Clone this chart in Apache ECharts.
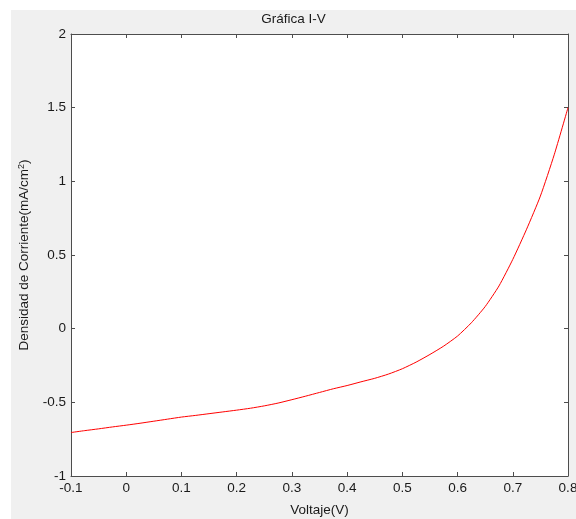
<!DOCTYPE html>
<html>
<head>
<meta charset="utf-8">
<script src="https://cdn.jsdelivr.net/npm/echarts@6/dist/echarts.min.js"></script>
<style>
  html, body { margin: 0; padding: 0; background: #ffffff; }
  #chart { position: absolute; left: 11px; top: 10px; width: 565px; height: 509px; }
</style>
</head>
<body>
<div id="chart"></div>
<script>
// Voltage samples (V)
const voltage = [
  -0.1, -0.075, -0.05, -0.025, 0, 0.025, 0.05, 0.075, 0.1, 0.125, 0.15, 0.175,
  0.2, 0.225, 0.25, 0.275, 0.3, 0.325, 0.35, 0.375, 0.4, 0.425, 0.45, 0.475,
  0.5, 0.525, 0.55, 0.575, 0.6, 0.625, 0.65, 0.675, 0.7, 0.725, 0.75, 0.775, 0.8
];
// Current density (mA/cm^2)
const density = [
  -0.705, -0.692, -0.680, -0.667, -0.655, -0.642, -0.628, -0.614, -0.600, -0.589, -0.577, -0.565,
  -0.553, -0.540, -0.524, -0.505, -0.482, -0.458, -0.433, -0.408, -0.386, -0.361, -0.337, -0.308,
  -0.272, -0.227, -0.175, -0.118, -0.050, 0.040, 0.150, 0.290, 0.470, 0.675, 0.900, 1.180, 1.500
];
const xTicks = [-0.1, 0, 0.1, 0.2, 0.3, 0.4, 0.5, 0.6, 0.7, 0.8];
const yTicks = [-1, -0.5, 0, 0.5, 1, 1.5, 2];

const font = 'Liberation Sans, Arial, sans-serif';
const fontSize = 13.5;
const axisColor = '#4d4d4d';
const textColor = '#1a1a1a';

const fmt = v => String(Math.round(v * 100) / 100);

const baseAxis = {
  axisLine: { show: true, onZero: false, lineStyle: { color: axisColor, width: 1 } },
  axisTick: { show: true, inside: true, length: 4, lineStyle: { color: axisColor } },
  splitLine: { show: false },
};

const chart = echarts.init(document.getElementById('chart'));
chart.setOption({
  backgroundColor: '#f0f0f0',
  animation: false,
  title: {
    text: 'Gráfica I-V',
    left: 'center',
    top: 2,
    padding: 0,
    textStyle: { fontFamily: font, fontSize: fontSize, fontWeight: 'normal', color: textColor }
  },
  grid: {
    left: 60, top: 24, right: 8, bottom: 43,
    outerBoundsMode: 'none', containLabel: false,
    show: true, backgroundColor: '#ffffff', borderWidth: 0
  },
  xAxis: [
    Object.assign({}, baseAxis, {
      type: 'value', min: xTicks[0], max: xTicks[xTicks.length - 1], interval: 0.1,
      position: 'bottom',
      name: 'Voltaje(V)', nameLocation: 'middle', nameGap: 27,
      nameTextStyle: { fontFamily: font, fontSize: fontSize, color: textColor },
      axisLabel: { fontFamily: font, fontSize: fontSize, color: textColor, margin: 5, formatter: fmt }
    }),
    Object.assign({}, baseAxis, {
      type: 'value', min: xTicks[0], max: xTicks[xTicks.length - 1], interval: 0.1,
      position: 'top', axisLabel: { show: false }
    })
  ],
  yAxis: [
    Object.assign({}, baseAxis, {
      type: 'value', min: yTicks[0], max: yTicks[yTicks.length - 1], interval: 0.5,
      position: 'left',
      name: '{t|Densidad de Corriente(mA/cm}{s|2}{t|)}', nameLocation: 'middle', nameGap: 39,
      nameTextStyle: {
        fontFamily: font, fontSize: fontSize, color: textColor,
        rich: {
          t: { fontFamily: font, fontSize: fontSize, color: textColor },
          s: { fontFamily: font, fontSize: 9, color: textColor, verticalAlign: 'top', padding: [0, 0, 6, 0] }
        }
      },
      axisLabel: { fontFamily: font, fontSize: fontSize, color: textColor, margin: 5, formatter: fmt }
    }),
    Object.assign({}, baseAxis, {
      type: 'value', min: yTicks[0], max: yTicks[yTicks.length - 1], interval: 0.5,
      position: 'right', axisLabel: { show: false }
    })
  ],
  series: [{
    type: 'line',
    data: voltage.map((v, i) => [v, density[i]]),
    showSymbol: false,
    smooth: 0.2,
    lineStyle: { color: '#ff0000', width: 1 },
    itemStyle: { color: '#ff0000' }
  }]
});
</script>
</body>
</html>
